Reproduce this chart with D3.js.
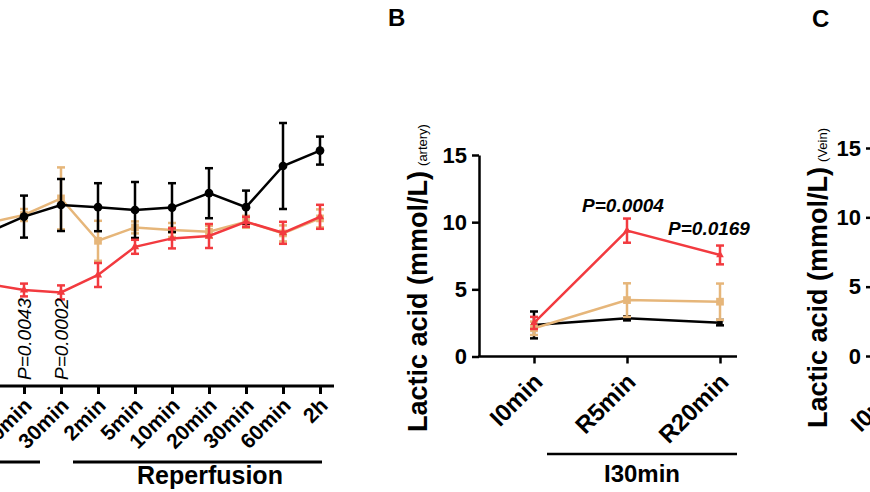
<!DOCTYPE html>
<html><head><meta charset="utf-8">
<script src="https://cdn.jsdelivr.net/npm/d3@7"></script>
<style>body{margin:0;background:#fff} svg{display:block} text{font-family:"Liberation Sans",Arial,Helvetica,sans-serif}</style>
</head><body><svg id="c" width="870" height="492"></svg>
<script>
// ---------- Panel A data ----------
const catsA = ["0min","10min","20min","30min","2min","5min","10min","20min","30min","60min","2h"];
const blackA    = [80, 76.5, 84.7, 90.5, 89.4, 88, 89.2, 96.4, 89.4, 110, 117.7];
const blackAErr = [10, 10, 10.5, 13, 12, 14, 12.2, 12.5, 8.3, 21.5, 7];
const tanA      = [82, 81.5, 85.5, 93.8, 72.6, 79.3, 78, 77.1, 82.1, 76.3, 83.8];
const tanAErr   = [3, 3, 3, 15.5, 10, 3, 3.5, 3, 3, 4, 4.5];
const redA      = [52, 51, 48, 46.8, 55.5, 69.6, 73.8, 75, 82.1, 76.6, 84.6];
const redAErr   = [3, 3, 3.2, 3.5, 6, 3.5, 5, 6, 2.5, 5.5, 6];
const pA = [{i:2, t:"P=0.0043"}, {i:3, t:"P=0.0002"}];
const groupsA = [{name:"Ischemia", from:0, to:3}, {name:"Reperfusion", from:4, to:10}];

// ---------- Panel B data ----------
const catsB = ["I0min","R5min","R20min"];
const ticksB = [0, 5, 10, 15];
const blackB    = [2.35, 2.84, 2.52];
const blackBErr = [1.0, 0.15, 0.2];
const tanB      = [2.1, 4.2, 4.08];
const tanBErr   = [0.5, 1.25, 1.35];
const redB      = [2.5, 9.37, 7.56];
const redBErr   = [0.45, 0.9, 0.7];
const pB = [{i:1, t:"P=0.0004"}, {i:2, t:"P=0.0169"}];
const groupB = "I30min";

// ---------- Panel C (axis only visible) ----------
const catsC = ["I0min","R5min","R20min"];
const ticksC = [0, 5, 10, 15];

const RED = "#f23a3f", TAN = "#e6b67a", BLACK = "#000";
const svg = d3.select("#c");

function series(g, x, y, vals, errs, color, shape, cap, sw, msize) {
  const idx = vals.map((v, i) => i);
  const line = d3.line().x(i => x(i)).y(i => y(vals[i]));
  g.append("path").attr("d", line(idx)).attr("fill", "none").attr("stroke", color).attr("stroke-width", sw);
  const eb = g.append("g").attr("stroke", color).attr("stroke-width", sw);
  idx.forEach(i => {
    const cx = x(i), y1 = y(vals[i] + errs[i]), y2 = y(vals[i] - errs[i]);
    eb.append("line").attr("x1", cx).attr("x2", cx).attr("y1", y1).attr("y2", y2);
    eb.append("line").attr("x1", cx - cap).attr("x2", cx + cap).attr("y1", y1).attr("y2", y1);
    eb.append("line").attr("x1", cx - cap).attr("x2", cx + cap).attr("y1", y2).attr("y2", y2);
  });
  g.append("g").selectAll("path").data(idx).join("path")
    .attr("transform", i => `translate(${x(i)},${y(vals[i])})`)
    .attr("d", d3.symbol().type(shape).size(msize))
    .attr("fill", color);
}

// ================= Panel A =================
const xA = d3.scalePoint().domain(d3.range(catsA.length)).range([-50, 320]);
const yA = d3.scaleLinear().domain([0, 150]).range([386, 86]);
const gA = svg.append("g");
const axA = gA.append("g").attr("transform", "translate(0,386)")
  .call(d3.axisBottom(xA).tickSize(8).tickSizeOuter(0).tickFormat(""));
axA.select(".domain").remove();
axA.selectAll("line").attr("stroke-width", 3);
gA.append("line").attr("x1", xA(0) - 20).attr("x2", xA(catsA.length - 1) + 14)
  .attr("y1", 386).attr("y2", 386).attr("stroke", "#000").attr("stroke-width", 3);
gA.append("g").selectAll("text").data(catsA).join("text")
  .attr("transform", (d, i) => `translate(${xA(i) + 9},${386 + 21}) rotate(-45)`)
  .attr("text-anchor", "end").attr("font-size", 21).attr("font-weight", "bold").text(d => d);
gA.append("line").attr("x1", xA(groupsA[0].from) - 20).attr("x2", xA(groupsA[0].to) - 21)
  .attr("y1", 462).attr("y2", 462).attr("stroke", "#000").attr("stroke-width", 3);
gA.append("line").attr("x1", xA(groupsA[1].from) - 25).attr("x2", xA(groupsA[1].to) + 2)
  .attr("y1", 462).attr("y2", 462).attr("stroke", "#000").attr("stroke-width", 3);
gA.append("text").attr("x", xA(7) + 1).attr("y", 484).attr("text-anchor", "middle")
  .attr("font-size", 25).attr("font-weight", "bold").text(groupsA[1].name);
series(gA, xA, yA, tanA, tanAErr, TAN, d3.symbolSquare, 4, 2.5, 60);
series(gA, xA, yA, blackA, blackAErr, BLACK, d3.symbolCircle, 4, 2.5, 60);
series(gA, xA, yA, redA, redAErr, RED, d3.symbolTriangle, 4, 2.5, 30);
gA.append("g").selectAll("text").data(pA).join("text")
  .attr("transform", d => `translate(${xA(d.i) + 7},380) rotate(-90)`)
  .attr("font-size", 19).attr("font-style", "italic").text(d => d.t);

// ================= Panel B =================
const xB = d3.scalePoint().domain(d3.range(catsB.length)).range([534, 720]);
const yB = d3.scaleLinear().domain([0, 15]).range([356.5, 155]);
const gB = svg.append("g");
gB.append("text").attr("x", 388).attr("y", 26).attr("font-size", 24).attr("font-weight", "bold").text("B");
const ayB = gB.append("g").attr("transform", "translate(479,0)")
  .call(d3.axisLeft(yB).tickValues(ticksB).tickSize(7).tickPadding(5).tickSizeOuter(0));
ayB.selectAll("path,line").attr("stroke-width", 2.5);
ayB.selectAll("text").attr("font-size", 22).attr("font-weight", "bold").attr("font-family", "Liberation Sans, Arial, sans-serif");
const axB = gB.append("g").attr("transform", "translate(0,356.5)")
  .call(d3.axisBottom(xB).tickSize(7).tickSizeOuter(0).tickFormat(""));
axB.select(".domain").remove();
axB.selectAll("line").attr("stroke-width", 2.5);
gB.append("line").attr("x1", 478).attr("x2", 737).attr("y1", 356.5).attr("y2", 356.5)
  .attr("stroke", "#000").attr("stroke-width", 2.5);
gB.append("g").selectAll("text").data(catsB).join("text")
  .attr("transform", (d, i) => `translate(${xB(i) + 10},${356.5 + 27}) rotate(-45)`)
  .attr("text-anchor", "end").attr("font-size", 24).attr("font-weight", "bold").text(d => d);
gB.append("line").attr("x1", xB(0) + 13).attr("x2", 737).attr("y1", 454).attr("y2", 454)
  .attr("stroke", "#000").attr("stroke-width", 2.5);
gB.append("text").attr("x", (xB(0) + 13 + 737) / 2).attr("y", 482).attr("text-anchor", "middle")
  .attr("font-size", 24).attr("font-weight", "bold").text(groupB);
const ylB = gB.append("text").attr("transform", "translate(427,432) rotate(-90)").attr("font-weight", "bold");
ylB.append("tspan").attr("font-size", 27).text("Lactic acid (mmol/L)");
ylB.append("tspan").attr("font-size", 13).attr("font-weight", "normal").attr("dx", 5).text("(artery)");
series(gB, xB, yB, blackB, blackBErr, BLACK, d3.symbolSquare, 4, 2.5, 30);
series(gB, xB, yB, tanB, tanBErr, TAN, d3.symbolSquare, 4, 2.5, 60);
series(gB, xB, yB, redB, redBErr, RED, d3.symbolTriangle, 4, 2.5, 25);
gB.append("g").selectAll("text").data(pB).join("text")
  .attr("x", d => xB(d.i) - (d.i === 1 ? 4 : 11)).attr("y", d => d.i === 1 ? 212 : 235)
  .attr("text-anchor", "middle").attr("font-size", 19).attr("font-weight", "bold").attr("font-style", "italic")
  .text(d => d.t);

// ================= Panel C =================
const xC = d3.scalePoint().domain(d3.range(catsC.length)).range([895, 1081]);
const yC = d3.scaleLinear().domain([0, 15]).range([356, 148]);
const gC = svg.append("g");
gC.append("text").attr("x", 812).attr("y", 27).attr("font-size", 24).attr("font-weight", "bold").text("C");
const ayC = gC.append("g").attr("transform", "translate(873,0)")
  .call(d3.axisLeft(yC).tickValues(ticksC).tickSize(7).tickPadding(5).tickSizeOuter(0));
ayC.selectAll("path,line").attr("stroke-width", 2.5);
ayC.selectAll("text").attr("font-size", 22).attr("font-weight", "bold").attr("font-family", "Liberation Sans, Arial, sans-serif");
gC.append("g").selectAll("text").data(catsC).join("text")
  .attr("transform", (d, i) => `translate(${xC(i) + 10},${356 + 33}) rotate(-45)`)
  .attr("text-anchor", "end").attr("font-size", 24).attr("font-weight", "bold").text(d => d);
const ylC = gC.append("text").attr("transform", "translate(827,428) rotate(-90)").attr("font-weight", "bold");
ylC.append("tspan").attr("font-size", 27).text("Lactic acid (mmol/L)");
ylC.append("tspan").attr("font-size", 13).attr("font-weight", "normal").attr("dx", 5).text("(Vein)");
</script></body></html>
